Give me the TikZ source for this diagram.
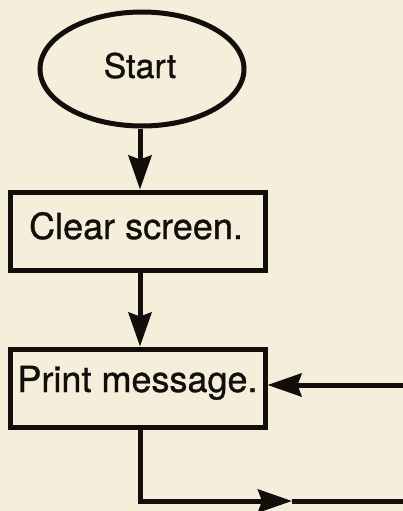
\documentclass[tikz,border=0pt]{standalone}
\usepackage{fontspec}
\setmainfont[FakeBold=0.9]{TeX Gyre Heros}
\usetikzlibrary{shapes.geometric,arrows.meta}
\definecolor{paper}{RGB}{245,238,218}
\definecolor{ink}{RGB}{18,14,12}
\tikzset{
  shp/.style={draw=ink,line width=5pt,inner sep=0pt,text=ink},
  boxnode/.style={shp,rectangle,minimum width=255pt,minimum height=78pt,font=\fontsize{36}{40}\selectfont,text depth=0pt},
  startnode/.style={shp,ellipse,minimum width=204pt,minimum height=114pt,font=\fontsize{34}{38}\selectfont,text depth=0pt,text height=18pt},
  arr/.style={draw=ink,line width=5pt,-{Stealth[length=34pt,width=23pt,inset=4pt]}},
  ln/.style={draw=ink,line width=5pt}
}
\begin{document}
\begin{tikzpicture}[x=1pt,y=-1pt]
\useasboundingbox[fill=paper] (0,0) rectangle (403,511);
\node[startnode] (start) at (142,69) {\hspace*{-4pt}Start};
\node[boxnode,text height=16pt] (clear) at (137.5,231) {\hspace*{-3pt}Clear screen.};
\node[boxnode,text height=8pt] (print) at (137.5,388) {Print message.};
\coordinate (ax) at (140,0);
\coordinate (rin) at (404,385);
\coordinate (tipb) at (292,501);
\coordinate (bend) at (404,501);
\draw[arr] (start.south -| ax) -- (clear.north -| ax);
\draw[arr] (clear.south -| ax) -- (print.north -| ax);
\draw[arr] (rin) -- (rin -| print.east);
\draw[arr] (print.south -| ax) |- (tipb);
\draw[ln] (tipb) -- (bend);
\end{tikzpicture}
\end{document}
